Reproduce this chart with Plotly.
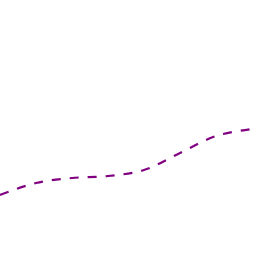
import plotly.graph_objects as go

x_vals = [0, 1, 2, 3, 4, 5, 6, 7]
y_vals = [61, 73, 78, 80, 86, 103, 120, 127]

fig = go.Figure(go.Scatter(
    x=x_vals, y=y_vals, mode="lines",
    line=dict(color="#800080", width=2.2, dash="dash", shape="spline"),
))
fig.update_layout(
    width=256, height=256, margin=dict(l=0, r=0, t=0, b=0),
    paper_bgcolor="white", plot_bgcolor="white", showlegend=False,
    xaxis=dict(visible=False, range=[0, 256/36]),
    yaxis=dict(visible=False, range=[0, 256]),
)
fig.write_html("out.html")
